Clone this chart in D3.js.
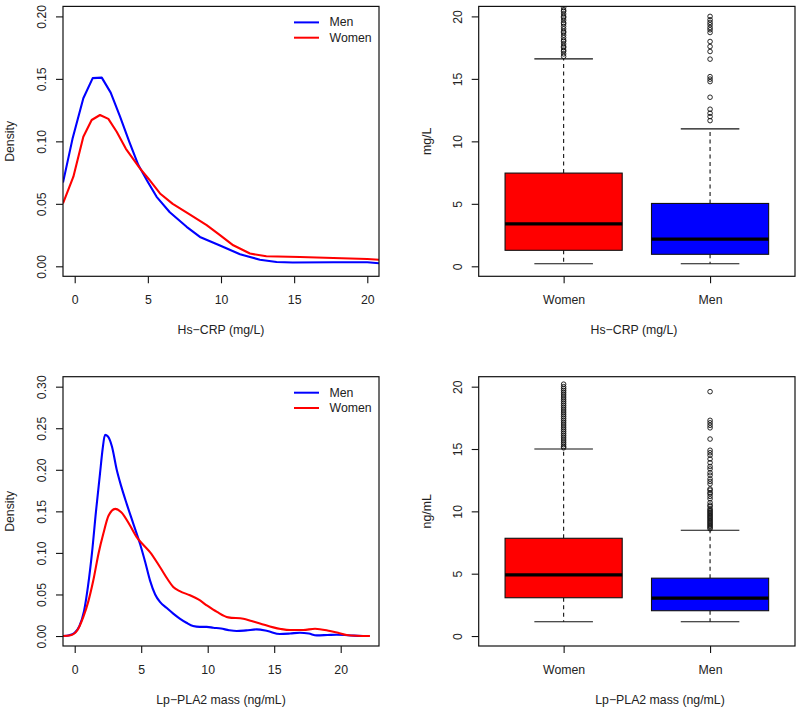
<!DOCTYPE html>
<html>
<head>
<meta charset="utf-8">
<script src="https://cdn.jsdelivr.net/npm/d3@7"></script>
<style>
  html, body { margin: 0; padding: 0; background: #fff; }
  svg text { font-family: "Liberation Sans", Arial, Helvetica, sans-serif; fill: #222; }
</style>
</head>
<body>
<svg id="chart" width="800" height="712"></svg>
<script>
// ---------------- DATA ----------------
const groups = ["Women", "Men"];
const legendLabels = ["Men", "Women"];

// Hs-CRP density (mg/L)
const crpMenX = [-0.8, -0.15, 0.59, 1.23, 1.85, 2.46, 3.10, 3.72, 4.35, 5.0, 5.6, 6.5, 7.65, 8.56, 9.93, 11.3, 12.66, 13.8, 14.9, 17.7, 20.0, 20.8];
const crpMenY = [0.067, 0.102, 0.1345, 0.1506, 0.151, 0.139, 0.1198, 0.100, 0.081, 0.0675, 0.0556, 0.0433, 0.0316, 0.0235, 0.0166, 0.0096, 0.0053, 0.0035, 0.003, 0.0032, 0.0032, 0.0024];
const crpWomenX = [-0.8, -0.09, 0.59, 1.16, 1.73, 2.30, 2.87, 3.5, 4.46, 5.03, 5.83, 6.7, 7.8, 9.02, 9.93, 10.84, 11.98, 13.1, 15.4, 17.68, 20.0, 20.8];
const crpWomenY = [0.0503, 0.0717, 0.1037, 0.1171, 0.1211, 0.118, 0.1077, 0.094, 0.0784, 0.0703, 0.0583, 0.050, 0.042, 0.0329, 0.0249, 0.0168, 0.0102, 0.008, 0.0075, 0.0067, 0.0059, 0.0053];

// Lp-PLA2 mass density (ng/mL)
const plaMenX = [-0.88, -0.4, 0.0, 0.35, 0.7, 1.0, 1.3, 1.6, 1.9, 2.1, 2.28, 2.5, 2.8, 3.16, 3.5, 3.91, 4.41, 4.91, 5.3, 5.66, 6.05, 6.41, 6.9, 7.41, 7.9, 8.4, 8.9, 9.4, 9.92, 10.42, 11.0, 11.6, 12.18, 12.9, 13.68, 14.5, 15.43, 16.2, 16.94, 17.6, 18.2, 19.0, 19.7, 20.5, 21.0, 21.7];
const plaMenY = [0, 0.001, 0.004, 0.012, 0.03, 0.06, 0.1, 0.15, 0.195, 0.225, 0.242, 0.24, 0.228, 0.2, 0.18, 0.159, 0.135, 0.111, 0.089, 0.067, 0.05, 0.041, 0.034, 0.027, 0.021, 0.016, 0.012, 0.011, 0.011, 0.01, 0.009, 0.007, 0.006, 0.0068, 0.008, 0.006, 0.0024, 0.003, 0.004, 0.003, 0.0008, 0.0012, 0.0016, 0.001, 0.0005, 0];
const plaWomenX = [-0.88, -0.3, 0.2, 0.65, 1.03, 1.4, 1.8, 2.15, 2.55, 3.05, 3.5, 4.16, 4.66, 5.2, 5.66, 6.41, 7.0, 7.41, 7.9, 8.67, 9.3, 9.92, 10.7, 11.55, 12.68, 13.3, 13.93, 14.93, 15.5, 16.19, 17.19, 18.07, 19.2, 19.8, 20.45, 21.2, 22.2];
const plaWomenY = [0, 0.001, 0.007, 0.023, 0.042, 0.067, 0.1, 0.123, 0.145, 0.153, 0.149, 0.133, 0.119, 0.109, 0.101, 0.083, 0.068, 0.059, 0.054, 0.049, 0.044, 0.037, 0.029, 0.0224, 0.0208, 0.018, 0.0152, 0.0104, 0.0085, 0.0072, 0.0072, 0.0088, 0.006, 0.004, 0.0012, 0.0003, 0];

// Box plot stats: [lower whisker, Q1, median, Q3, upper whisker]
const crpBoxWomen = [0.2, 1.28, 3.39, 7.46, 16.6];
const crpBoxMen = [0.2, 0.96, 2.17, 5.03, 11.0];
const plaBoxWomen = [1.15, 3.07, 4.91, 7.84, 15.0];
const plaBoxMen = [1.15, 2.03, 3.04, 4.64, 8.48];

// Outliers
const crpOutWomen = [16.8, 17.0, 17.2, 17.3, 17.5, 17.6, 17.8, 18.0, 18.1, 18.3, 18.5, 18.7, 18.8, 19.0, 19.2, 19.4, 19.5, 19.7, 19.9, 20.0, 20.2, 20.4, 20.5, 20.7, 20.9];
const crpOutMen = [11.66, 11.98, 12.25, 12.57, 13.53, 14.78, 14.98, 15.18, 16.58, 17.19, 17.59, 17.99, 18.71, 18.93, 19.11, 19.33, 19.52, 19.73, 20.0];
const plaOutWomen = [15.1, 15.2, 15.35, 15.5, 15.65, 15.8, 15.95, 16.1, 16.25, 16.4, 16.55, 16.7, 16.85, 17.0, 17.15, 17.3, 17.45, 17.6, 17.75, 17.9, 18.05, 18.2, 18.35, 18.5, 18.65, 18.8, 18.95, 19.1, 19.25, 19.4, 19.55, 19.7, 19.85, 20.0, 20.2];
const plaOutMen = [8.6, 8.7, 8.8, 8.9, 9.0, 9.1, 9.2, 9.3, 9.4, 9.5, 9.6, 9.7, 9.8, 9.9, 10.0, 10.1, 10.2, 10.4, 10.5, 10.7, 11.0, 11.2, 11.4, 11.5, 11.7, 11.8, 12.2, 12.4, 12.6, 12.9, 13.1, 13.4, 13.6, 13.9, 14.2, 14.5, 14.7, 14.9, 15.8, 16.7, 16.9, 17.1, 17.3, 19.6];

const densTicksCrpX = [0, 5, 10, 15, 20];
const densTicksCrpY = [0, 0.05, 0.10, 0.15, 0.20];
const densTicksPlaX = [0, 5, 10, 15, 20];
const densTicksPlaY = [0, 0.05, 0.10, 0.15, 0.20, 0.25, 0.30];
const boxTicksY = [0, 5, 10, 15, 20];

// ---------------- DRAWING ----------------
const svg = d3.select("#chart");
const FS = 12.3;
const colMen = "#0000FF", colWomen = "#FF0000";

function frame(g, L, R, T, B) {
  g.append("rect").attr("x", L).attr("y", T).attr("width", R - L).attr("height", B - T)
    .attr("fill", "none").attr("stroke", "#111").attr("stroke-width", 1.2);
}

function yAxis(g, y, L, ticks, fmt) {
  const ax = g.append("g").attr("transform", `translate(${L},0)`)
    .call(d3.axisLeft(y).tickValues(ticks).tickSize(7).tickSizeOuter(0).tickFormat(fmt));
  ax.select(".domain").remove();
  ax.selectAll("line").attr("stroke", "#111").attr("stroke-width", 1.1);
  ax.selectAll("text").attr("transform", "rotate(-90)").attr("x", 0).attr("y", -21)
    .attr("dy", null).attr("dominant-baseline", "central").attr("text-anchor", "middle")
    .style("font-size", FS + "px").style("font-family", null).attr("fill", "#222");
}

function xAxis(g, x, B, ticks, fmt) {
  const ax = g.append("g").attr("transform", `translate(0,${B})`)
    .call(d3.axisBottom(x).tickValues(ticks).tickSize(7).tickSizeOuter(0).tickFormat(fmt));
  ax.select(".domain").remove();
  ax.selectAll("line").attr("stroke", "#111").attr("stroke-width", 1.1);
  ax.selectAll("text").attr("y", 23.5).attr("dy", null).attr("dominant-baseline", "central")
    .style("font-size", FS + "px").style("font-family", null).attr("fill", "#222");
}

function densityPanel(id, L, R, T, B, xDom, yDom, xt, yt, men, women, title, curve) {
  const g = svg.append("g");
  const x = d3.scaleLinear().domain(xDom).range([L, R]);
  const y = d3.scaleLinear().domain(yDom).range([B, T]);
  g.append("clipPath").attr("id", id).append("rect")
    .attr("x", L).attr("y", T).attr("width", R - L).attr("height", B - T);
  const line = d3.line().x(d => x(d[0])).y(d => y(d[1])).curve(curve);
  const pg = g.append("g").attr("clip-path", `url(#${id})`);
  pg.append("path").datum(men[0].map((v, i) => [v, men[1][i]]))
    .attr("d", line).attr("fill", "none").attr("stroke", colMen).attr("stroke-width", 2.1)
    .attr("stroke-linejoin", "round");
  pg.append("path").datum(women[0].map((v, i) => [v, women[1][i]]))
    .attr("d", line).attr("fill", "none").attr("stroke", colWomen).attr("stroke-width", 2.1)
    .attr("stroke-linejoin", "round");
  frame(g, L, R, T, B);
  yAxis(g, y, L, yt, d3.format(".2f"));
  xAxis(g, x, B, xt, d3.format("d"));
  g.append("text").attr("x", (L + R) / 2).attr("y", B + 54).attr("text-anchor", "middle")
    .attr("dominant-baseline", "central").style("font-size", FS + "px").text(title);
  g.append("text").attr("transform", `translate(${L - 53},${(T + B) / 2}) rotate(-90)`)
    .attr("text-anchor", "middle").attr("dominant-baseline", "central")
    .style("font-size", FS + "px").text("Density");
  // legend
  const lc = [colMen, colWomen];
  legendLabels.forEach((lab, i) => {
    const ly = T + 16 + i * 15.3;
    g.append("line").attr("x1", 294).attr("x2", 319).attr("y1", ly).attr("y2", ly)
      .attr("stroke", lc[i]).attr("stroke-width", 2);
    g.append("text").attr("x", 329.5).attr("y", ly).attr("dominant-baseline", "central")
      .style("font-size", FS + "px").text(lab);
  });
}

function boxPanel(id, L, R, T, B, stats, outs, yLabel, title, titleX) {
  const g = svg.append("g");
  const x = d3.scaleLinear().domain([0.42, 2.58]).range([L, R]);
  const y = d3.scaleLinear().domain([-0.8, 20.8]).range([B, T]);
  g.append("clipPath").attr("id", id).append("rect")
    .attr("x", L).attr("y", T).attr("width", R - L).attr("height", B - T);
  const pg = g.append("g").attr("clip-path", `url(#${id})`);
  const fills = [colWomen, colMen];
  stats.forEach((s, i) => {
    const cx = x(i + 1);
    const hw = x(i + 1.4) - x(i + 1);
    const cw = x(i + 1.2) - x(i + 1);
    // whiskers (dashed)
    pg.append("line").attr("x1", cx).attr("x2", cx).attr("y1", y(s[3])).attr("y2", y(s[4]))
      .attr("stroke", "#111").attr("stroke-width", 1.1).attr("stroke-dasharray", "4,3.5");
    pg.append("line").attr("x1", cx).attr("x2", cx).attr("y1", y(s[1])).attr("y2", y(s[0]))
      .attr("stroke", "#111").attr("stroke-width", 1.1).attr("stroke-dasharray", "4,3.5");
    // caps
    [s[0], s[4]].forEach(v => {
      pg.append("line").attr("x1", cx - cw).attr("x2", cx + cw).attr("y1", y(v)).attr("y2", y(v))
        .attr("stroke", "#111").attr("stroke-width", 1.1);
    });
    // box
    pg.append("rect").attr("x", cx - hw).attr("width", 2 * hw)
      .attr("y", y(s[3])).attr("height", y(s[1]) - y(s[3]))
      .attr("fill", fills[i]).attr("stroke", "#111").attr("stroke-width", 1.1);
    // median
    pg.append("line").attr("x1", cx - hw).attr("x2", cx + hw).attr("y1", y(s[2])).attr("y2", y(s[2]))
      .attr("stroke", "#000").attr("stroke-width", 3.2);
    // outliers
    pg.selectAll(null).data(outs[i]).enter().append("circle")
      .attr("cx", cx).attr("cy", d => y(d)).attr("r", 2.3)
      .attr("fill", "none").attr("stroke", "#111").attr("stroke-width", 0.9);
  });
  frame(g, L, R, T, B);
  yAxis(g, y, L, boxTicksY, d3.format("d"));
  xAxis(g, x, B, [1, 2], (d) => groups[d - 1]);
  g.append("text").attr("x", titleX).attr("y", B + 54).attr("text-anchor", "middle")
    .attr("dominant-baseline", "central").style("font-size", FS + "px").text(title);
  g.append("text").attr("transform", `translate(${L - 52},${(T + B) / 2}) rotate(-90)`)
    .attr("text-anchor", "middle").attr("dominant-baseline", "central")
    .style("font-size", FS + "px").text(yLabel);
}

densityPanel("c1", 63, 379, 6.4, 276.3, [-0.8, 20.8], [-0.008, 0.208],
  densTicksCrpX, densTicksCrpY, [crpMenX, crpMenY], [crpWomenX, crpWomenY],
  "Hs\u2212CRP (mg/L)", d3.curveLinear);
boxPanel("c2", 478.7, 795, 6.4, 276.3, [crpBoxWomen, crpBoxMen], [crpOutWomen, crpOutMen],
  "mg/L", "Hs\u2212CRP (mg/L)", 634);
densityPanel("c3", 63, 379, 376.7, 646, [-0.88, 22.88], [-0.012, 0.312],
  densTicksPlaX, densTicksPlaY, [plaMenX, plaMenY], [plaWomenX, plaWomenY],
  "Lp\u2212PLA2 mass (ng/mL)", d3.curveMonotoneX);
boxPanel("c4", 478.7, 795, 376.7, 646, [plaBoxWomen, plaBoxMen], [plaOutWomen, plaOutMen],
  "ng/mL", "Lp\u2212PLA2 mass (ng/mL)", 660);
</script>
</body>
</html>
